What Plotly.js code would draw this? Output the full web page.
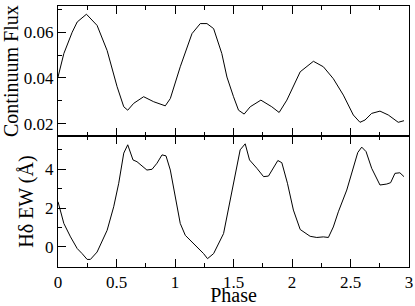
<!DOCTYPE html>
<html><head><meta charset="utf-8">
<script src="https://cdn.plot.ly/plotly-3.0.1.min.js"></script>
<style>html,body{margin:0;padding:0;background:#fff}#plot{width:415px;height:306px}</style>
</head><body><div id="plot"></div>
<script>
var fluxPhase = [0, 0.05, 0.121, 0.164, 0.243, 0.334, 0.42, 0.505, 0.562, 0.596, 0.647, 0.732, 0.818, 0.917, 0.96, 1.045, 1.145, 1.216, 1.273, 1.33, 1.40, 1.444, 1.50, 1.543, 1.591, 1.643, 1.734, 1.827, 1.89, 1.956, 2.07, 2.183, 2.268, 2.353, 2.439, 2.524, 2.581, 2.624, 2.681, 2.752, 2.823, 2.908, 2.957];
var fluxValues = [0.0404, 0.0507, 0.060, 0.0645, 0.0679, 0.063, 0.052, 0.0362, 0.0274, 0.0259, 0.0289, 0.0318, 0.0296, 0.0278, 0.031, 0.0449, 0.0594, 0.0638, 0.0638, 0.0616, 0.0507, 0.0404, 0.0318, 0.0259, 0.0242, 0.0274, 0.0303, 0.0274, 0.0249, 0.0303, 0.0427, 0.0473, 0.0449, 0.0397, 0.0325, 0.0238, 0.0206, 0.0216, 0.0245, 0.0255, 0.0238, 0.0206, 0.0213];
var ewPhase = [0, 0.05, 0.107, 0.164, 0.206, 0.249, 0.277, 0.334, 0.42, 0.476, 0.519, 0.562, 0.596, 0.641, 0.675, 0.76, 0.804, 0.846, 0.889, 0.923, 0.96, 1.003, 1.045, 1.088, 1.188, 1.244, 1.278, 1.33, 1.415, 1.472, 1.514, 1.557, 1.6, 1.637, 1.7, 1.757, 1.799, 1.84, 1.879, 1.913, 1.961, 2.012, 2.07, 2.155, 2.212, 2.268, 2.311, 2.353, 2.396, 2.468, 2.524, 2.562, 2.596, 2.633, 2.681, 2.752, 2.81, 2.843, 2.88, 2.922, 2.957];
var ewValues = [2.33, 1.21, 0.52, -0.08, -0.34, -0.64, -0.64, -0.26, 0.86, 2.07, 3.28, 4.83, 5.26, 4.48, 4.39, 3.96, 4.0, 4.31, 4.74, 4.69, 3.96, 2.58, 1.21, 0.60, 0.0, -0.34, -0.6, -0.34, 0.69, 2.41, 3.79, 5.0, 5.31, 4.48, 4.05, 3.62, 3.65, 4.05, 4.45, 4.34, 3.28, 1.90, 0.90, 0.55, 0.49, 0.52, 0.49, 1.03, 1.81, 2.93, 4.13, 4.86, 5.14, 4.91, 4.05, 3.19, 3.24, 3.31, 3.79, 3.82, 3.62];

var fam = 'Liberation Serif';
var tickFont = {family: fam, color: '#000', size: 17};
var titleFont = {family: fam, color: '#000', size: 20};

var traces = [
  {x: fluxPhase, y: fluxValues, xaxis: 'x2', yaxis: 'y2', mode: 'lines', line: {color: '#000', width: 1}, hoverinfo: 'none'},
  {x: ewPhase, y: ewValues, xaxis: 'x', yaxis: 'y', mode: 'lines', line: {color: '#000', width: 1}, hoverinfo: 'none'}
];

function xax(extra) {
  return Object.assign({
    range: [0, 3], dtick: 0.5, tick0: 0, ticks: 'inside', ticklen: 8, tickwidth: 1, tickcolor: '#000',
    minor: {dtick: 0.25, ticks: 'inside', ticklen: 4, tickwidth: 1, tickcolor: '#000'},
    showline: true, linecolor: '#000', linewidth: 1, mirror: 'ticks', showgrid: false, zeroline: false,
    tickfont: tickFont, fixedrange: true
  }, extra);
}
function yax(extra) {
  return Object.assign({
    ticks: 'inside', ticklen: 8, tickwidth: 1, tickcolor: '#000',
    showline: true, linecolor: '#000', linewidth: 1, mirror: true, showgrid: false, zeroline: false,
    tickfont: tickFont, fixedrange: true
  }, extra);
}

var layout = {
  width: 415, height: 306,
  margin: {l: 57.5, r: 6, t: 6, b: 39.3},
  font: {family: fam, color: '#000'},
  paper_bgcolor: '#fff', plot_bgcolor: '#fff',
  showlegend: false,
  xaxis: xax({anchor: 'y', title: {text: 'Phase', font: titleFont, standoff: 2}}),
  xaxis2: xax({anchor: 'y2', showticklabels: false, matches: 'x'}),
  yaxis: yax({domain: [0, 0.501], anchor: 'x', range: [-1.03, 5.7], dtick: 2, tick0: 0,
    minor: {dtick: 1, ticks: 'inside', ticklen: 4, tickwidth: 1, tickcolor: '#000'},
    title: {text: 'Hδ EW (Å)', font: titleFont, standoff: 6}}),
  yaxis2: yax({domain: [0.501, 1], anchor: 'x2', range: [0.0145, 0.0715], dtick: 0.02, tick0: 0,
    minor: {dtick: 0.01, ticks: 'inside', ticklen: 4, tickwidth: 1, tickcolor: '#000'},
    title: {text: 'Continuum Flux', font: titleFont, standoff: 6}})
};

Plotly.newPlot('plot', traces, layout, {staticPlot: true, displayModeBar: false});
</script></body></html>
